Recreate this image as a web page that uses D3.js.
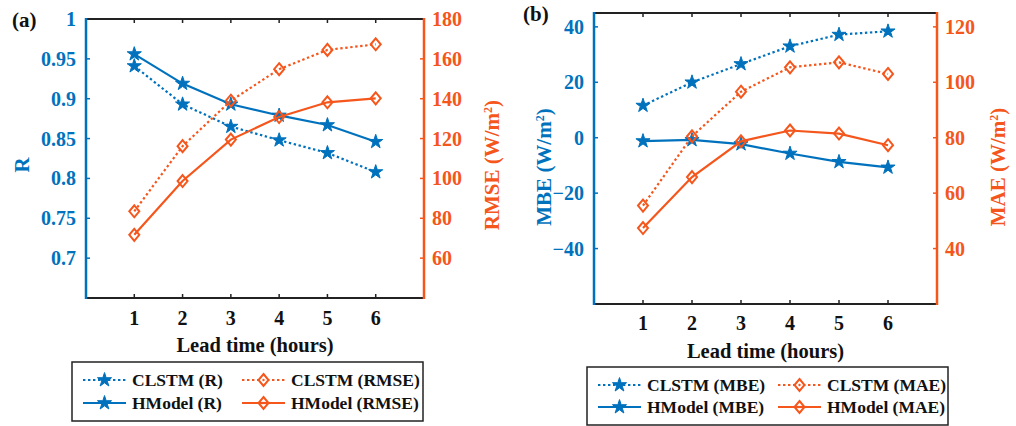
<!DOCTYPE html>
<html>
<head>
<meta charset="utf-8">
<script src="https://cdn.jsdelivr.net/npm/d3@7"></script>
<style>
  body { margin: 0; background: #fff; }
</style>
</head>
<body>
<div id="chart"></div>
<script>
// data
var leadTimes = [1, 2, 3, 4, 5, 6];

var clstmR = [0.941, 0.893, 0.865, 0.848, 0.832, 0.808];
var hmodelR = [0.956, 0.919, 0.893, 0.879, 0.867, 0.846];
var clstmRMSE = [83.5, 116.2, 139.0, 154.8, 164.5, 167.3];
var hmodelRMSE = [71.7, 98.7, 119.5, 130.8, 138.2, 140.2];

var clstmMBE = [11.6, 20.0, 26.6, 33.0, 37.2, 38.4];
var hmodelMBE = [-1.2, -0.8, -2.3, -5.7, -8.7, -10.7];
var clstmMAE = [55.5, 80.5, 96.6, 105.4, 107.2, 103.0];
var hmodelMAE = [47.4, 65.8, 78.7, 82.6, 81.5, 77.3];

var rTicks = [0.7, 0.75, 0.8, 0.85, 0.9, 0.95, 1];
var rmseTicks = [60, 80, 100, 120, 140, 160, 180];
var mbeTicks = [-40, -20, 0, 20, 40];
var maeTicks = [40, 60, 80, 100, 120];

var BLUE = "#0072BD";
var ORANGE = "#F5561C";
var FONT = "'Liberation Serif', 'Times New Roman', Times, serif";

var svg = d3.select("#chart").append("svg")
    .attr("width", 1016)
    .attr("height", 426)
    .attr("font-family", FONT)
    .attr("font-weight", "bold");

// diamond marker, a bit taller than wide like matlab's
function diamond(cx, cy) {
    return "M" + cx + "," + (cy - 6) + "L" + (cx + 5) + "," + cy +
        "L" + cx + "," + (cy + 6) + "L" + (cx - 5) + "," + cy + "Z";
}
var star = d3.symbol().type(d3.symbolStar).size(62);

function fmt(v) {
    var s = String(+v.toFixed(2));
    return s.replace("-", "\u2212");
}

// draws one panel (two y axes, four series, legend)
function drawPanel(p) {
    var g = svg.append("g");

    var x = d3.scaleLinear().domain([0, 7]).range([p.left, p.right]);
    var yL = d3.scaleLinear().domain(p.leftDomain).range([p.bottom, p.top]);
    var yR = d3.scaleLinear().domain(p.rightDomain).range([p.bottom, p.top]);

    // x ticks bottom and top, inward
    leadTimes.forEach(function (t) {
        g.append("line").attr("x1", x(t)).attr("x2", x(t))
            .attr("y1", p.bottom).attr("y2", p.bottom - 4)
            .attr("stroke", "#222").attr("stroke-width", 1.5);
        g.append("line").attr("x1", x(t)).attr("x2", x(t))
            .attr("y1", p.top).attr("y2", p.top + 4)
            .attr("stroke", "#222").attr("stroke-width", 1.5);
        g.append("text").attr("x", x(t)).attr("y", p.xTickY)
            .attr("text-anchor", "middle").attr("font-size", 20)
            .attr("fill", "#111").text(t);
    });

    // left ticks
    p.leftTicks.forEach(function (v) {
        g.append("line").attr("x1", p.left).attr("x2", p.left + 4)
            .attr("y1", yL(v)).attr("y2", yL(v))
            .attr("stroke", BLUE).attr("stroke-width", 1.5);
        g.append("text").attr("x", p.left - 10).attr("y", yL(v)).attr("dy", "0.35em")
            .attr("text-anchor", "end").attr("font-size", 20)
            .attr("fill", BLUE).text(fmt(v));
    });

    // right ticks
    p.rightTicks.forEach(function (v) {
        g.append("line").attr("x1", p.right).attr("x2", p.right - 4)
            .attr("y1", yR(v)).attr("y2", yR(v))
            .attr("stroke", ORANGE).attr("stroke-width", 1.5);
        g.append("text").attr("x", p.right + 8).attr("y", yR(v)).attr("dy", "0.35em")
            .attr("text-anchor", "start").attr("font-size", 20)
            .attr("fill", ORANGE).text(fmt(v));
    });

    // box
    g.append("line").attr("x1", p.left).attr("x2", p.right).attr("y1", p.top).attr("y2", p.top)
        .attr("stroke", "#222").attr("stroke-width", 2);
    g.append("line").attr("x1", p.left).attr("x2", p.right).attr("y1", p.bottom).attr("y2", p.bottom)
        .attr("stroke", "#222").attr("stroke-width", 2);
    g.append("line").attr("x1", p.left).attr("x2", p.left).attr("y1", p.top - 1).attr("y2", p.bottom + 1)
        .attr("stroke", BLUE).attr("stroke-width", 2.5);
    g.append("line").attr("x1", p.right).attr("x2", p.right).attr("y1", p.top - 1).attr("y2", p.bottom + 1)
        .attr("stroke", ORANGE).attr("stroke-width", 2.5);

    // axis titles
    g.append("text").attr("x", (p.left + p.right) / 2).attr("y", p.xTitleY)
        .attr("text-anchor", "middle").attr("font-size", 20.5).attr("fill", "#111")
        .text("Lead time (hours)");

    function yTitle(xpos, ypos, label, unit, color) {
        var t = g.append("text")
            .attr("transform", "translate(" + xpos + "," + ypos + ") rotate(-90)")
            .attr("text-anchor", "middle").attr("font-size", 21).attr("fill", color);
        if (unit) {
            t.append("tspan").text(label + " (W/m");
            t.append("tspan").attr("baseline-shift", "super").attr("font-size", 12).text("2");
            t.append("tspan").text(")");
        } else {
            t.text(label);
        }
    }
    yTitle(p.leftTitleX, p.titleCY, p.leftLabel, p.leftUnit, BLUE);
    yTitle(p.rightTitleX, p.titleCY, p.rightLabel, true, ORANGE);

    g.append("text").attr("x", p.tagX).attr("y", p.tagY)
        .attr("font-size", 21).attr("fill", "#111").text(p.tag);

    // series
    var series = [
        { vals: p.clstmL, y: yL, color: BLUE, dash: "2.4,2.6", mark: "star" },
        { vals: p.hmodelL, y: yL, color: BLUE, dash: null, mark: "star" },
        { vals: p.clstmR, y: yR, color: ORANGE, dash: "2.4,2.6", mark: "diamond" },
        { vals: p.hmodelR, y: yR, color: ORANGE, dash: null, mark: "diamond" }
    ];

    series.forEach(function (s) {
        var line = d3.line()
            .x(function (d, i) { return x(leadTimes[i]); })
            .y(function (d) { return s.y(d); });
        g.append("path").datum(s.vals)
            .attr("d", line)
            .attr("fill", "none")
            .attr("stroke", s.color)
            .attr("stroke-width", 2.2)
            .attr("stroke-dasharray", s.dash);
        s.vals.forEach(function (v, i) {
            if (s.mark === "star") {
                g.append("path").attr("d", star)
                    .attr("transform", "translate(" + x(leadTimes[i]) + "," + s.y(v) + ")")
                    .attr("fill", s.color).attr("stroke", s.color).attr("stroke-width", 1);
            } else {
                g.append("path").attr("d", diamond(x(leadTimes[i]), s.y(v)))
                    .attr("fill", "none").attr("stroke", s.color).attr("stroke-width", 2);
            }
        });
    });

    // legend
    var lg = p.legend;
    g.append("rect").attr("x", lg.x).attr("y", lg.y).attr("width", lg.w).attr("height", lg.h)
        .attr("fill", "#fff").attr("stroke", "#222").attr("stroke-width", 1.5);

    var entries = [
        { s: series[0], name: p.names[0], col: 0, row: 0 },
        { s: series[1], name: p.names[1], col: 0, row: 1 },
        { s: series[2], name: p.names[2], col: 1, row: 0 },
        { s: series[3], name: p.names[3], col: 1, row: 1 }
    ];
    entries.forEach(function (e) {
        var x0 = lg.cols[e.col];
        var cy = lg.rows[e.row];
        g.append("line").attr("x1", x0).attr("x2", x0 + 43)
            .attr("y1", cy).attr("y2", cy)
            .attr("stroke", e.s.color).attr("stroke-width", 2.2)
            .attr("stroke-dasharray", e.s.dash);
        if (e.s.mark === "star") {
            g.append("path").attr("d", star)
                .attr("transform", "translate(" + (x0 + 21.5) + "," + cy + ")")
                .attr("fill", e.s.color).attr("stroke", e.s.color).attr("stroke-width", 1);
        } else {
            g.append("path").attr("d", diamond(x0 + 21.5, cy))
                .attr("fill", "#fff").attr("stroke", e.s.color).attr("stroke-width", 2);
            if (e.s.dash) {
                g.append("circle").attr("cx", x0 + 21.5).attr("cy", cy).attr("r", 1.2)
                    .attr("fill", e.s.color);
            } else {
                g.append("line").attr("x1", x0 + 16.5).attr("x2", x0 + 26.5)
                    .attr("y1", cy).attr("y2", cy)
                    .attr("stroke", e.s.color).attr("stroke-width", 2.2);
            }
        }
        g.append("text").attr("x", x0 + 49).attr("y", cy + 6)
            .attr("font-size", 17.5).attr("fill", "#111").text(e.name);
    });
}

drawPanel({
    tag: "(a)", tagX: 12, tagY: 27,
    left: 86, right: 424, top: 19, bottom: 298,
    leftDomain: [0.65, 1], rightDomain: [40, 180],
    leftTicks: rTicks, rightTicks: rmseTicks,
    clstmL: clstmR, hmodelL: hmodelR, clstmR: clstmRMSE, hmodelR: hmodelRMSE,
    xTickY: 325, xTitleY: 352,
    leftLabel: "R", leftUnit: false, rightLabel: "RMSE",
    leftTitleX: 29, rightTitleX: 499, titleCY: 165,
    names: ["CLSTM (R)", "HModel (R)", "CLSTM (RMSE)", "HModel (RMSE)"],
    legend: { x: 72, y: 362, w: 351, h: 59, cols: [83, 242], rows: [380, 403] }
});

drawPanel({
    tag: "(b)", tagX: 523, tagY: 21,
    left: 594, right: 937, top: 13, bottom: 304,
    leftDomain: [-60, 45], rightDomain: [20, 125],
    leftTicks: mbeTicks, rightTicks: maeTicks,
    clstmL: clstmMBE, hmodelL: hmodelMBE, clstmR: clstmMAE, hmodelR: hmodelMAE,
    xTickY: 330, xTitleY: 358,
    leftLabel: "MBE", leftUnit: true, rightLabel: "MAE",
    leftTitleX: 551, rightTitleX: 1005, titleCY: 167,
    names: ["CLSTM (MBE)", "HModel (MBE)", "CLSTM (MAE)", "HModel (MAE)"],
    legend: { x: 587, y: 367, w: 361, h: 58, cols: [598, 778], rows: [385, 407] }
});
</script>
</body>
</html>
